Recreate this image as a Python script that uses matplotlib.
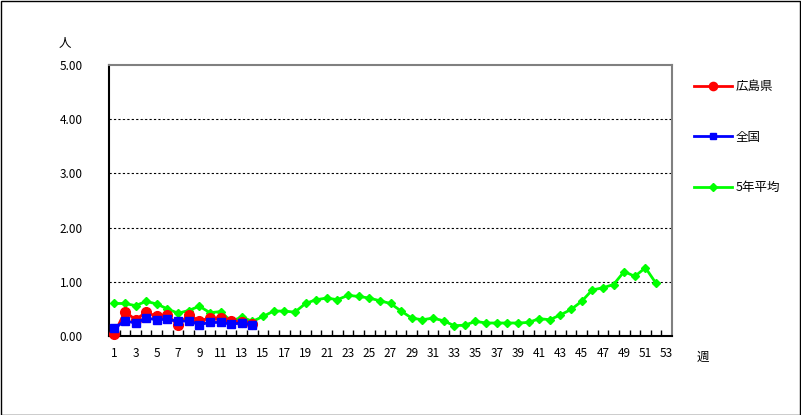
import numpy as np
import matplotlib.pyplot as plt

plt.rcParams['font.family'] = ['Noto Sans CJK JP', 'DejaVu Sans']

weeks_avg = np.arange(1, 53)
weeks_cur = np.arange(1, 15)

hiroshima = [0.04, 0.45, 0.30, 0.44, 0.36, 0.39, 0.20, 0.39, 0.28, 0.33,
             0.33, 0.28, 0.25, 0.22]
zenkoku = [0.14, 0.28, 0.24, 0.33, 0.30, 0.31, 0.27, 0.28, 0.21, 0.25,
           0.25, 0.22, 0.24, 0.21]
avg5 = [0.60, 0.60, 0.56, 0.64, 0.59, 0.50, 0.42, 0.47, 0.55, 0.43,
        0.45, 0.27, 0.35, 0.27, 0.36, 0.46, 0.46, 0.44, 0.60, 0.67,
        0.70, 0.67, 0.75, 0.73, 0.70, 0.65, 0.60, 0.46, 0.33, 0.30,
        0.33, 0.28, 0.19, 0.20, 0.27, 0.24, 0.24, 0.24, 0.24, 0.25,
        0.32, 0.30, 0.39, 0.49, 0.64, 0.85, 0.89, 0.95, 1.19, 1.10,
        1.26, 0.97]

W, H = 801, 415
fig = plt.figure(figsize=(W / 100, H / 100), dpi=100)
fig.patch.set_facecolor('white')
# outer frame
fig.add_artist(plt.Rectangle((0.5 / W, 0.5 / H), 1 - 1.5 / W, 1 - 1.5 / H,
                             transform=fig.transFigure, fill=False,
                             edgecolor='black', linewidth=1))

left, right, top, bottom = 109, 672, 65, 336
ax = fig.add_axes([left / W, 1 - bottom / H, (right - left) / W, (bottom - top) / H])

ax.plot(weeks_avg, avg5, color='#00ff00', marker='D', markersize=4.5,
        linewidth=2, label='5年平均', zorder=3, clip_on=False)
ax.plot(weeks_cur, hiroshima, color='#ff0000', marker='o', markersize=7,
        linewidth=2, label='広島県', zorder=4, clip_on=False)
ax.plot(weeks_cur, zenkoku, color='#0000ff', marker='s', markersize=5.5,
        linewidth=2, label='全国', zorder=5, clip_on=False)

ax.set_xlim(0.5, 53.5)
ax.set_ylim(0, 5)

ax.set_yticks(np.arange(0, 5.01, 1))
ax.set_yticklabels(['%.2f' % v for v in np.arange(0, 5.01, 1)])
ax.tick_params(axis='y', length=0, pad=19, labelsize=8.5)
for v in range(1, 5):
    ax.axhline(v, color='black', linestyle=(0, (2, 2)), linewidth=0.8, zorder=1)

ax.set_xticks(np.arange(1.5, 53.5, 1))
ax.set_xticklabels([])
ax.set_xticks(np.arange(1, 54, 2), minor=True)
ax.set_xticklabels([str(i) for i in range(1, 54, 2)], minor=True)
ax.tick_params(axis='x', which='major', direction='in', length=4, width=1)
ax.tick_params(axis='x', which='minor', length=0, pad=8, labelsize=8.5)

ax.spines['left'].set_color('black')
ax.spines['bottom'].set_color('black')
ax.spines['left'].set_linewidth(1.5)
ax.spines['bottom'].set_linewidth(1.5)
ax.spines['top'].set_color('#808080')
ax.spines['right'].set_color('#808080')
ax.spines['top'].set_linewidth(1.5)
ax.spines['right'].set_linewidth(1.5)

fig.text(65 / W, 1 - 44 / H, '人', fontsize=9, ha='center', va='center')
fig.text(703 / W, 1 - 357 / H, '週', fontsize=9, ha='center', va='center')

handles, labels = ax.get_legend_handles_labels()
order = [1, 2, 0]
leg = fig.legend([handles[i] for i in order], [labels[i] for i in order],
                 loc='upper left', bbox_to_anchor=(683 / W, 1 - 69 / H),
                 frameon=False, fontsize=9, labelspacing=3.0,
                 handlelength=3, handletextpad=0.3, markerscale=0.85)

fig.savefig('out.png', dpi=100)
